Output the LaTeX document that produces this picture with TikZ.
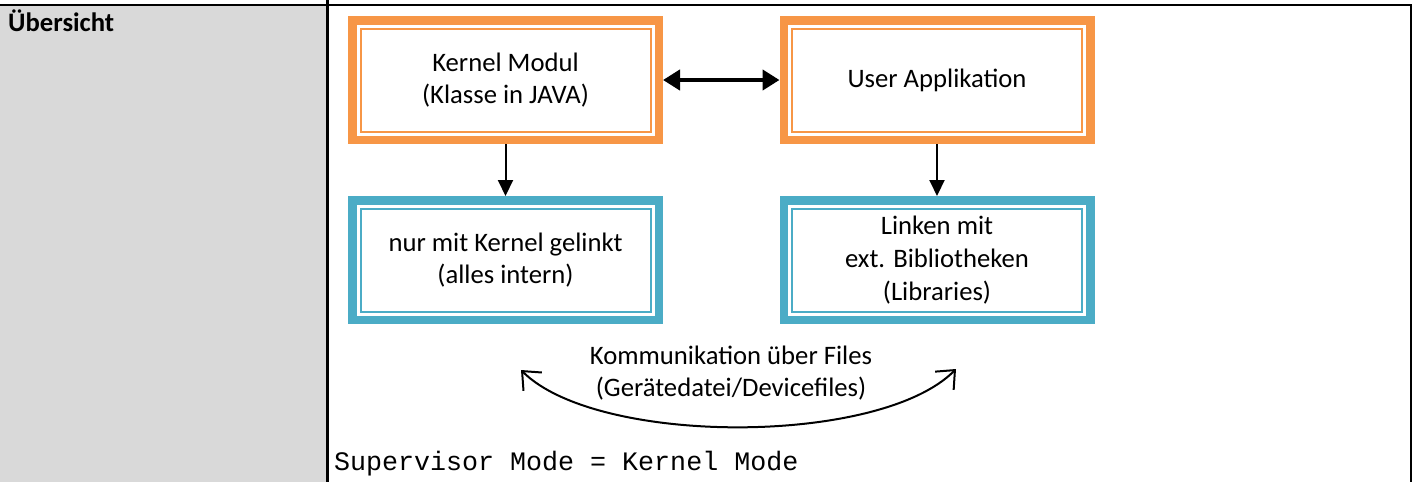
\documentclass[tikz,border=0pt]{standalone}
\usepackage{fontspec}
\setmainfont{Carlito}
\newfontfamily\codefont{Liberation Mono}
\usetikzlibrary{arrows.meta}

\definecolor{boxorange}{HTML}{F79646}
\definecolor{boxblue}{HTML}{4BACC6}
\definecolor{cellgray}{HTML}{D9D9D9}

\newcommand\diagfont{\fontsize{26.67pt}{32.6pt}\selectfont}

\tikzset{
  % thick outer frame with a thin inner frame, as a double border
  framebox/.style={
    draw=#1, line width=8.5pt, minimum width=306.5pt, minimum height=119.5pt,
    inner sep=0pt, align=center, font=\diagfont,
    path picture={
      \draw[#1, line width=2pt]
        ([shift={(8.25pt,-8.25pt)}]path picture bounding box.north west)
        rectangle
        ([shift={(-8.25pt,8.25pt)}]path picture bounding box.south east);
    }
  },
  rule/.style={line width=2.5pt, black},
  flow/.style={line width=2pt, -{Triangle[length=16pt,width=15pt]}},
  linkarrow/.style={line width=4.5pt,
    {Triangle[length=17pt,width=20pt]}-{Triangle[length=17pt,width=20pt]}},
  filearrow/.style={line width=2pt,
    {Straight Barb[length=15pt,width=26pt]}-{Straight Barb[length=15pt,width=26pt]}},
}

\begin{document}
\begin{tikzpicture}[x=1pt, y=-1pt]
  \useasboundingbox (0,0) rectangle (1412,482);

  % table cell background and rules
  \fill[cellgray] (0,6) rectangle (326.5,482);
  \draw[rule] (0,5) -- (1412,5);
  \draw[rule] (327.5,0) -- (327.5,482);
  \draw[rule] (1410.75,5) -- (1410.75,482);

  \node[anchor=base west, font=\diagfont\bfseries, inner sep=0pt] (title) at (8,31) {Übersicht};

  % boxes
  \node[framebox=boxorange] (kernel) at (505.5,80) {Kernel Modul\\(Klasse in JAVA)};
  \node[framebox=boxorange] (user)   at (937,80)   {User Applikation};
  \node[framebox=boxblue]   (intern) at (505.5,260) {nur mit Kernel gelinkt\\(alles intern)};
  \node[framebox=boxblue]   (libs)   at (937,260)   {Linken mit\\ext. Bibliotheken\\(Libraries)};

  % connectors
  \draw[linkarrow] (kernel.east) -- (user.west);
  \draw[flow] (kernel) -- (intern);
  \draw[flow] (user) -- (libs);

  % communication via files
  \coordinate (fl) at (521,370);
  \coordinate (fr) at (956,369);
  \draw[filearrow] (fl) .. controls (597,446) and (880,446) .. (fr);
  \node[font=\diagfont, align=center, inner sep=0pt] (comm) at (731,373)
    {Kommunikation über Files\\(Gerätedatei/Devicefiles)};

  \node[anchor=base west, font=\codefont\fontsize{26.67pt}{32pt}\selectfont, inner sep=0pt]
    (mode) at (334,470) {Supervisor Mode = Kernel Mode};
\end{tikzpicture}
\end{document}
